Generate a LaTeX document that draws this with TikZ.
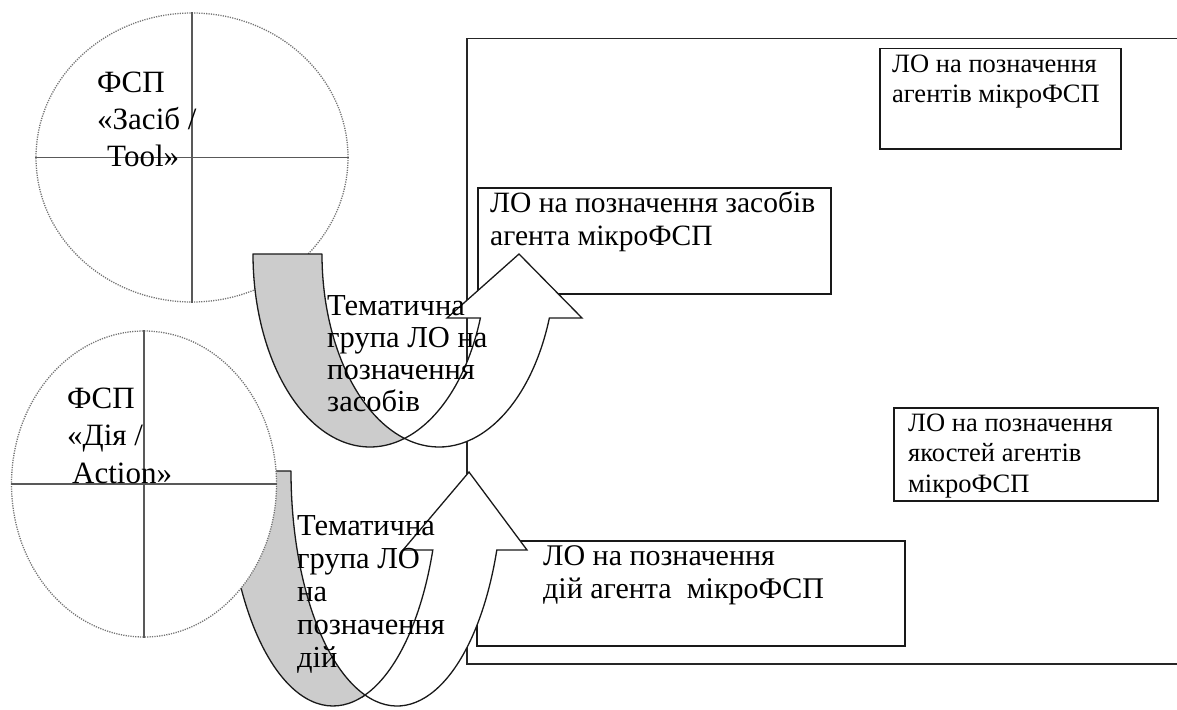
\documentclass[tikz,border=0pt]{standalone}
\usepackage{fontspec}
\setmainfont{Liberation Serif}
\usetikzlibrary{shapes.geometric}
\begin{document}
\begin{tikzpicture}[x=1pt,y=-1pt,
  frameline/.style={draw=black!85, line width=1.5pt, inner sep=0pt, anchor=north west},
  lobox/.style={draw=black!90, line width=1.5pt, fill=white, inner sep=0pt, anchor=north west},
  field/.style={ellipse, draw=black!55, line width=1.3pt, dash pattern=on 1.2pt off 1.2pt, fill=white, inner sep=0pt},
  cross/.style={draw=black!65, line width=1.2pt},
  backface/.style={fill=black!20, draw=black!90, line width=1.3pt, line join=round},
  frontface/.style={fill=white, draw=black!90, line width=1.3pt, line join=miter},
  label/.style={anchor=north west, inner sep=0pt, align=left, text=black},
]
\useasboundingbox (0,0) rectangle (1177,709);
\clip (0,0) rectangle (1177,709);

% outer frame (its right side lies beyond the page edge)
\node[frameline, minimum width=800pt, minimum height=625pt] (frame) at (466,38) {};

% boxes of lexical units
\node[lobox, minimum width=241pt, minimum height=100pt] (bagent) at (879,48) {};
\node[lobox, minimum width=353pt, minimum height=106pt] (bzasib) at (477,187) {};
\node[lobox, minimum width=264pt, minimum height=93pt] (byakist) at (893,407) {};
\node[lobox, minimum width=428pt, minimum height=105pt] (bdii) at (476,540) {};

% field "Tool"
\node[field, minimum width=312pt, minimum height=289pt] (ctool) at (192,157.5) {};
\draw[cross] (ctool.west) -- (ctool.east);
\draw[cross] (ctool.north) -- (ctool.south);

% curved arrow: group of means
\coordinate (topX) at (404.5,438.4);
\filldraw[backface] (253,254) arc[start angle=180, end angle=72.85, x radius=117, y radius=193]
  arc[start angle=107.15, end angle=180, x radius=117, y radius=193] -- cycle;
\filldraw[frontface] (topX) arc[start angle=107.15, end angle=19.37, x radius=117, y radius=193]
  -- (582,318) -- (519,254) -- (447,318) -- (480.4,318)
  arc[start angle=19.37, end angle=72.85, x radius=117, y radius=193] -- cycle;

% curved arrow: group of actions
\coordinate (botX) at (365,695);
\filldraw[backface] (227,471) arc[start angle=180, end angle=72.43, x radius=106, y radius=235]
  arc[start angle=107.57, end angle=180, x radius=106, y radius=235] -- cycle;
\filldraw[frontface] (botX) arc[start angle=107.57, end angle=19.64, x radius=106, y radius=235]
  -- (527,550) -- (469,472) -- (403,550) -- (432.8,550)
  arc[start angle=19.64, end angle=72.43, x radius=106, y radius=235] -- cycle;

% field "Action"
\node[field, minimum width=265pt, minimum height=306pt] (caction) at (144,484) {};
\draw[cross] (caction.west) -- (caction.east);
\draw[cross] (caction.north) -- (caction.south);

% texts
\node[label, font=\fontsize{31}{37}\selectfont] (ttool) at (97,66.1)
  {\strut ФСП\\\strut «Засіб /\\\strut\hspace*{10pt}Tool»};
\node[label, font=\fontsize{31}{37.5}\selectfont] (taction) at (67,381.75)
  {\strut ФСП\\\strut «Дія /\\\strut\hspace*{5pt}Action»};
\node[label, font=\fontsize{30.5}{32}\selectfont] (tzas) at (327,292.6)
  {\strut Тематична\\\strut група ЛО на\\\strut позначення\\\strut засобів};
\node[label, font=\fontsize{30.5}{33}\selectfont] (tdiy) at (297,511.9)
  {\strut Тематична\\\strut група ЛО\\\strut на\\\strut позначення\\\strut дій};
\node[label, font=\fontsize{26.5}{30.5}\selectfont] (tagent) at (892,50.65)
  {\strut ЛО на позначення\\\strut агентів мікроФСП};
\node[label, font=\fontsize{29.5}{33}\selectfont] (tzasib) at (490,188.9)
  {\strut ЛО на позначення засобів\\\strut агента мікроФСП};
\node[label, font=\fontsize{26.5}{30.5}\selectfont] (tyakist) at (908,409.65)
  {\strut ЛО на позначення\\\strut якостей агентів\\\strut мікроФСП};
\node[label, font=\fontsize{30}{33}\selectfont] (tdii) at (543,541.9)
  {\strut ЛО на позначення\\\strut дій агента\ \ мікроФСП};
\end{tikzpicture}
\end{document}
